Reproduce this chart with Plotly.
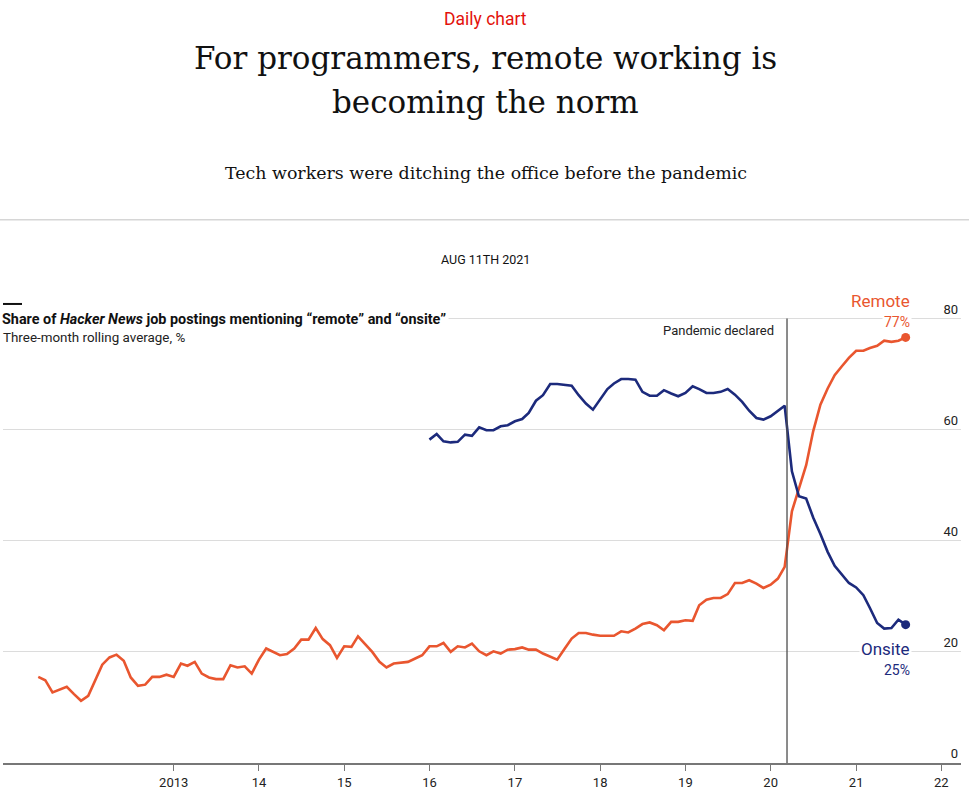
import pandas as pd
import plotly.graph_objects as go

# ---------------- data ----------------
start_month = "2011-06-01"
remote = [
    15.5, 14.9, 12.7, 13.2, 13.7, 12.4, 11.2, 12.1, 14.9, 17.7,
    19.0, 19.5, 18.4, 15.4, 13.9, 14.1, 15.5, 15.5, 15.9, 15.5,
    17.9, 17.5, 18.2, 16.1, 15.4, 15.1, 15.1, 17.6, 17.2, 17.4,
    16.1, 18.6, 20.6, 20.0, 19.4, 19.6, 20.6, 22.2, 22.2, 24.3,
    22.3, 21.2, 18.9, 21.0, 20.9, 22.8, 21.3, 20.0, 18.2, 17.2,
    17.9, 18.0, 18.2, 18.8, 19.4, 21.0, 21.0, 21.6, 20.0, 21.0,
    20.8, 21.5, 20.1, 19.4, 20.1, 19.7, 20.4, 20.5, 20.8, 20.4,
    20.4, 19.7, 19.1, 18.6, 20.5, 22.4, 23.4, 23.4, 23.1, 22.9,
    22.9, 22.9, 23.7, 23.5, 24.2, 25.0, 25.3, 24.8, 23.9, 25.4,
    25.4, 25.7, 25.6, 28.4, 29.4, 29.7, 29.7, 30.4, 32.4, 32.4,
    32.9, 32.3, 31.5, 32.1, 33.2, 35.3, 45.3, 49.3, 53.6, 59.7,
    64.5, 67.4, 69.8, 71.4, 72.9, 74.2, 74.2, 74.7, 75.1, 76.0,
    75.8, 76.0, 76.6,
]
onsite_start = "2016-01-01"
onsite = [
    58.2, 59.2, 57.9, 57.7, 57.8, 59.1, 58.9, 60.4, 59.9, 59.9,
    60.6, 60.8, 61.5, 61.9, 63.0, 65.2, 66.2, 68.2, 68.2, 68.0,
    67.9, 66.2, 64.7, 63.6, 65.5, 67.3, 68.3, 69.1, 69.1, 69.0,
    66.8, 66.1, 66.1, 67.1, 66.5, 66.0, 66.6, 67.8, 67.3, 66.6,
    66.6, 66.8, 67.3, 66.3, 65.0, 63.4, 62.1, 61.8, 62.4, 63.3,
    64.3, 52.5, 48.0, 47.6, 44.2, 41.2, 38.0, 35.5, 33.9, 32.4,
    31.6, 30.2, 27.9, 25.2, 24.2, 24.3, 25.8, 24.9,
]
tick_years = [2013, 2014, 2015, 2016, 2017, 2018, 2019, 2020, 2021, 2022]
tick_labels = ["2013", "14", "15", "16", "17", "18", "19", "20", "21", "22"]
y_ticks = [0, 20, 40, 60, 80]
pandemic_date = "2020-03-11"

remote_dates = pd.date_range(start_month, periods=len(remote), freq="MS")
onsite_dates = pd.date_range(onsite_start, periods=len(onsite), freq="MS")

ORANGE = "#E9562F"
NAVY = "#1C2A7C"
SANS = "Roboto, 'Noto Sans', sans-serif"
SERIF = "'DejaVu Serif', serif"

fig = go.Figure()
fig.add_trace(go.Scatter(x=remote_dates, y=remote, mode="lines",
                         line=dict(color=ORANGE, width=2.6), hoverinfo="skip"))
fig.add_trace(go.Scatter(x=onsite_dates, y=onsite, mode="lines",
                         line=dict(color=NAVY, width=2.6), hoverinfo="skip"))
fig.add_trace(go.Scatter(x=[remote_dates[-1]], y=[remote[-1]], mode="markers",
                         marker=dict(color=ORANGE, size=9), hoverinfo="skip", cliponaxis=False))
fig.add_trace(go.Scatter(x=[onsite_dates[-1]], y=[onsite[-1]], mode="markers",
                         marker=dict(color=NAVY, size=9), hoverinfo="skip", cliponaxis=False))

# pandemic line
fig.add_shape(type="line", xref="x", yref="y", x0=pandemic_date, x1=pandemic_date,
              y0=0, y1=80, line=dict(color="#4d4d4d", width=1.3), layer="above")

W, H = 969, 793
L, R, T, B = 3, 8, 296, 28
pw, ph = W - L - R, H - T - B
Y_TOP = ph / 5.58


def px(x):
    return (x - L) / pw


def py(y):
    return (H - B - y) / ph


LABEL_X = "2021-08-28"

anns = []
anns.append(dict(text="Daily chart", x=px(486), y=py(18), xref="paper", yref="paper",
                 xanchor="center", yanchor="middle", showarrow=False,
                 font=dict(family=SANS, size=17.5, color="#E3120B")))
anns.append(dict(text="For programmers, remote working is", x=px(486), y=py(57),
                 xref="paper", yref="paper", xanchor="center", yanchor="middle",
                 showarrow=False, font=dict(family=SERIF, size=31, color="#111111")))
anns.append(dict(text="becoming the norm", x=px(486), y=py(101),
                 xref="paper", yref="paper", xanchor="center", yanchor="middle",
                 showarrow=False, font=dict(family=SERIF, size=31, color="#111111")))
anns.append(dict(text="Tech workers were ditching the office before the pandemic",
                 x=px(486), y=py(172), xref="paper", yref="paper", xanchor="center",
                 yanchor="middle", showarrow=False,
                 font=dict(family=SERIF, size=17.4, color="#111111")))
anns.append(dict(text="AUG 11TH 2021", x=px(486), y=py(259), xref="paper", yref="paper",
                 xanchor="center", yanchor="middle", showarrow=False,
                 font=dict(family=SANS, size=12.5, color="#111111")))
anns.append(dict(text="<b>Share of <i>Hacker News</i> job postings mentioning “remote” and “onsite”</b>",
                 x=px(-1), y=py(320), xref="paper", yref="paper", xanchor="left",
                 yanchor="middle", showarrow=False, bgcolor="white", borderpad=2,
                 font=dict(family=SANS, size=14.4, color="#111111")))
anns.append(dict(text="Three-month rolling average, %", x=px(1), y=py(338),
                 xref="paper", yref="paper", xanchor="left", yanchor="middle",
                 showarrow=False, font=dict(family=SANS, size=13.4, color="#222222")))
anns.append(dict(text="Pandemic declared", x="2020-01-25", y=77.8, xref="x", yref="y",
                 xanchor="right", yanchor="middle", showarrow=False,
                 font=dict(family=SANS, size=13, color="#222222")))
anns.append(dict(text="Remote", x=LABEL_X, y=83.2, xref="x", yref="y",
                 xanchor="right", yanchor="middle", showarrow=False,
                 font=dict(family=SANS, size=17, color=ORANGE)))
anns.append(dict(text="77%", x=LABEL_X, y=79.4, xref="x", yref="y",
                 xanchor="right", yanchor="middle", showarrow=False, bgcolor="white",
                 borderpad=1, font=dict(family=SANS, size=14, color=ORANGE)))
anns.append(dict(text="Onsite", x=LABEL_X, y=20.6, xref="x", yref="y",
                 xanchor="right", yanchor="middle", showarrow=False, bgcolor="white",
                 borderpad=1, font=dict(family=SANS, size=17, color=NAVY)))
anns.append(dict(text="25%", x=LABEL_X, y=16.8, xref="x", yref="y",
                 xanchor="right", yanchor="middle", showarrow=False,
                 font=dict(family=SANS, size=14, color=NAVY)))

shapes = [
    dict(type="line", xref="paper", yref="paper", x0=px(0), x1=px(969),
         y0=py(219.5), y1=py(219.5), line=dict(color="#d6d6d6", width=1.5)),
    dict(type="line", xref="paper", yref="paper", x0=px(3), x1=px(22),
         y0=py(304), y1=py(304), line=dict(color="#111111", width=2)),
]

fig.update_layout(
    width=W, height=H,
    margin=dict(l=L, r=R, t=T, b=B, pad=0),
    paper_bgcolor="white", plot_bgcolor="white",
    showlegend=False,
    annotations=anns,
    shapes=list(fig.layout.shapes) + shapes,
    xaxis=dict(
        type="date",
        range=["2011-01-01", "2022-03-26"],
        tickvals=[f"{y}-01-01" for y in tick_years],
        ticktext=tick_labels,
        ticks="outside", ticklen=6, tickwidth=1.3, tickcolor="#777777",
        showline=True, linecolor="#777777", linewidth=2,
        showgrid=False, zeroline=False,
        tickfont=dict(family=SANS, size=13, color="#222222"),
    ),
    yaxis=dict(
        range=[0, Y_TOP],
        tickvals=y_ticks,
        side="right",
        ticklabelposition="inside top",
        showgrid=True, gridcolor="#dcdcdc", gridwidth=1,
        zeroline=False, showline=False, ticks="",
        tickfont=dict(family=SANS, size=13, color="#222222"),
    ),
)

fig.write_html("out.html", config={"displayModeBar": False},
               post_script="document.body.style.margin='0';document.body.style.overflow='hidden';")
